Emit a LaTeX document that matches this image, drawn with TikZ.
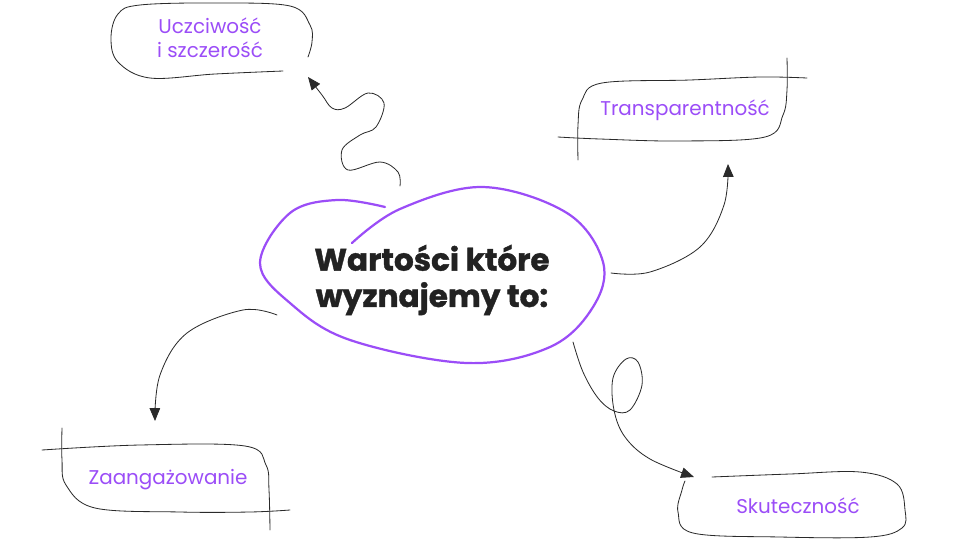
\documentclass[tikz,border=0pt]{standalone}
\usepackage{fontspec}
\setmainfont{Poppins}
\newfontfamily\titlefont{Poppins}[UprightFont=* Bold, FakeBold=1.2]
\usetikzlibrary{arrows.meta}
\definecolor{vio}{HTML}{9B4DF7}
\definecolor{ink}{HTML}{222222}
\definecolor{sk}{HTML}{2A2A2A}
\tikzset{
  sketch/.style={draw=sk, line width=0.7pt, line cap=round, line join=round},
  conn/.style={sketch, -{Triangle[length=11pt,width=9pt]}},
  blob/.style={draw=vio, line width=1.9pt, line cap=round},
  lbl/.style={text=vio, font=\fontsize{17}{20.5}\selectfont, align=center, inner sep=0pt},
  ttl/.style={text=ink, font=\titlefont\fontsize{26.5}{31}\selectfont, align=center, inner sep=0pt}
}
\begin{document}
\begin{tikzpicture}[x=0.03cm,y=-0.03cm]
\useasboundingbox (0,0) rectangle (967,550);

% central blob
\draw[blob] plot[smooth, tension=0.6] coordinates {(352,243) (400,209) (483,187) (567,213) (603,262) (593,307) (550,347) (467,363) (350,340) (290,303) (260,263) (290,213) (337,200) (385,207)};
\node[ttl] (center) at (432,280) {Wartości które\\wyznajemy to:};

% labels
\node[lbl] (uczc) at (210,38) {Uczciwość\\i szczerość};
\node[lbl] (trans) at (685,110) {Transparentność};
\node[lbl] (zaan) at (168,480) {Zaangażowanie};
\node[lbl] (skut) at (798,506) {Skuteczność};

% box 1
\draw[sketch] plot[smooth, tension=0.6] coordinates {(283,71) (215,74) (150,78) (118,62) (111,38) (118,14) (140,5) (215,3) (290,6) (310,25) (312,42) (308,57)};
% box 2
\draw[sketch] plot[smooth, tension=0.6] coordinates {(578,160) (578,125) (582,100) (602,83) (690,80) (760,77) (807,78)};
\draw[sketch] plot[smooth, tension=0.6] coordinates {(787,58) (787,90) (783,115) (765,137) (680,141) (600,139) (558,137)};
% box 3
\draw[sketch] plot[smooth, tension=0.6] coordinates {(62,428) (62,460) (66,485) (95,508) (180,512) (250,512) (290,510)};
\draw[sketch] plot[smooth, tension=0.6] coordinates {(42,450) (140,445) (245,446) (266,465) (269,490) (270,530)};
% box 4
\draw[sketch] plot[smooth, tension=0.6] coordinates {(712,477) (790,474) (860,472) (897,484) (905,510) (902,528) (870,537) (780,537) (693,533) (678,512) (682,490) (685,481)};

% connectors
\coordinate (a1s) at (400,186);
\coordinate (a1e) at (308,77);
\draw[conn] plot[smooth, tension=0.6] coordinates {(a1s) (398,172) (380,162) (348,170) (342,150) (360,135) (376,127) (384,103) (368,93) (345,108) (332,108) (322,95) (a1e)};

\coordinate (a2s) at (611,273);
\coordinate (a2e) at (728,164);
\draw[conn] plot[smooth, tension=0.6] coordinates {(a2s) (650,272) (700,247) (724,205) (a2e)};

\coordinate (a3s) at (277,315);
\coordinate (a3e) at (155,421);
\draw[conn] plot[smooth, tension=0.6] coordinates {(a3s) (243,310) (187,333) (160,375) (a3e)};

\coordinate (a4s) at (573,342);
\coordinate (a4e) at (694,477);
\draw[conn] plot[smooth, tension=0.6] coordinates {(a4s) (583,372) (598,398) (614,411) (630,410) (642,385) (638,362) (626,359) (613,378) (614,410) (625,437) (650,459) (a4e)};
\end{tikzpicture}
\end{document}
